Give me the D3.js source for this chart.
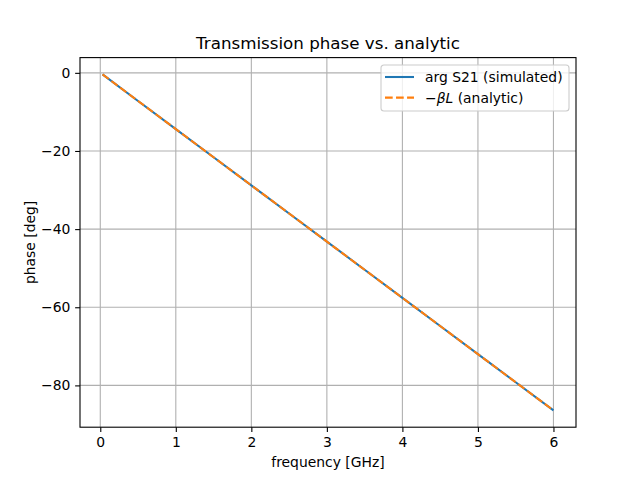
<!DOCTYPE html>
<html>
<head>
<meta charset="utf-8">
<script src="https://cdn.jsdelivr.net/npm/d3@7"></script>
<style>
  body { margin: 0; background: #fff; }
  svg text { font-family: "DejaVu Sans", sans-serif; }
</style>
</head>
<body>
<svg id="chart" width="640" height="480"></svg>
<script>
// Values
var freqGHz = [0.03, 0.5, 1, 1.5, 2, 2.5, 3, 3.5, 4, 4.5, 5, 5.5, 6];
var phaseSim = [-0.4, -7.2, -14.4, -21.6, -28.8, -36, -43.2, -50.4, -57.6, -64.8, -72, -79.2, -86.4];
var phaseAna = [-0.4, -7.2, -14.4, -21.6, -28.8, -36, -43.2, -50.4, -57.6, -64.8, -72, -79.2, -86.4];
var xTicks = [0, 1, 2, 3, 4, 5, 6];
var yTicks = [0, -20, -40, -60, -80];

// Layout like a default matplotlib figure
var margin = { top: 57.6, right: 64, bottom: 52.8, left: 80 };
var width = 640 - margin.left - margin.right;
var height = 480 - margin.top - margin.bottom;

var svg = d3.select("#chart");
var g = svg.append("g")
  .attr("transform", "translate(" + margin.left + "," + margin.top + ")");

// Scales with 5% padding
var xext = d3.extent(freqGHz);
var xpad = (xext[1] - xext[0]) * 0.05;
var x = d3.scaleLinear().domain([xext[0] - xpad, xext[1] + xpad]).range([0, width]);

var yext = d3.extent(phaseSim.concat(phaseAna));
var ypad = (yext[1] - yext[0]) * 0.05;
var y = d3.scaleLinear().domain([yext[0] - ypad, yext[1] + ypad]).range([height, 0]);

var fmt = function(d) { return String(d).replace("-", "\u2212"); };

// Grid
g.append("g").selectAll("line").data(xTicks).enter().append("line")
  .attr("x1", function(d) { return x(d); }).attr("x2", function(d) { return x(d); })
  .attr("y1", 0).attr("y2", height)
  .attr("stroke", "#b0b0b0").attr("stroke-width", 1.1);
g.append("g").selectAll("line").data(yTicks).enter().append("line")
  .attr("y1", function(d) { return y(d); }).attr("y2", function(d) { return y(d); })
  .attr("x1", 0).attr("x2", width)
  .attr("stroke", "#b0b0b0").attr("stroke-width", 1.1);

// Lines
var line = d3.line()
  .x(function(d) { return x(d[0]); })
  .y(function(d) { return y(d[1]); });

g.append("path")
  .datum(d3.zip(freqGHz, phaseSim))
  .attr("fill", "none")
  .attr("stroke", "#1f77b4")
  .attr("stroke-width", 2.08)
  .attr("d", line);

g.append("path")
  .datum(d3.zip(freqGHz, phaseAna))
  .attr("fill", "none")
  .attr("stroke", "#ff7f0e")
  .attr("stroke-width", 2.08)
  .attr("stroke-dasharray", "7.7,3.33")
  .attr("d", line);

// Axes
var xAxis = g.append("g")
  .attr("transform", "translate(0," + height + ")")
  .call(d3.axisBottom(x).tickValues(xTicks).tickSize(4.86).tickPadding(4.8).tickFormat(fmt));
var yAxis = g.append("g")
  .call(d3.axisLeft(y).tickValues(yTicks).tickSize(4.86).tickPadding(4.8).tickFormat(fmt));

[xAxis, yAxis].forEach(function(a) {
  a.select(".domain").remove();
  a.selectAll("line").attr("stroke", "#000").attr("stroke-width", 1.1);
  a.selectAll("text").attr("font-size", "13.9px").attr("fill", "#000")
    .attr("font-family", "DejaVu Sans, sans-serif");
});

// Frame
g.append("rect")
  .attr("width", width).attr("height", height)
  .attr("fill", "none").attr("stroke", "#000").attr("stroke-width", 1.1);

// Title and labels
svg.append("text")
  .attr("x", margin.left + width / 2).attr("y", margin.top - 8.3)
  .attr("text-anchor", "middle").attr("font-size", "16.7px")
  .text("Transmission phase vs. analytic");

svg.append("text")
  .attr("x", margin.left + width / 2).attr("y", 467)
  .attr("text-anchor", "middle").attr("font-size", "13.9px")
  .text("frequency [GHz]");

svg.append("text")
  .attr("transform", "translate(34.5," + (margin.top + height / 2) + ") rotate(-90)")
  .attr("text-anchor", "middle").attr("font-size", "13.9px")
  .text("phase [deg]");

// Legend
var leg = svg.append("g").attr("transform", "translate(381,65)");
leg.append("rect")
  .attr("width", 188).attr("height", 46).attr("rx", 3)
  .attr("fill", "#fff").attr("fill-opacity", 0.8)
  .attr("stroke", "#cccccc").attr("stroke-width", 1.1);

var items = [
  { color: "#1f77b4", dash: null, label: "arg S21 (simulated)" },
  { color: "#ff7f0e", dash: "7.7,3.33", label: null }
];
items.forEach(function(it, i) {
  var yy = 12 + i * 20.6;
  leg.append("line")
    .attr("x1", 4).attr("x2", 33).attr("y1", yy).attr("y2", yy)
    .attr("stroke", it.color).attr("stroke-width", 2.08)
    .attr("stroke-dasharray", it.dash);
  var t = leg.append("text")
    .attr("x", 44).attr("y", yy + 5).attr("font-size", "13.9px");
  if (it.label) {
    t.text(it.label);
  } else {
    t.append("tspan").text("\u2212");
    t.append("tspan").attr("font-style", "italic").text("\u03b2L");
    t.append("tspan").text(" (analytic)");
  }
});
</script>
</body>
</html>
